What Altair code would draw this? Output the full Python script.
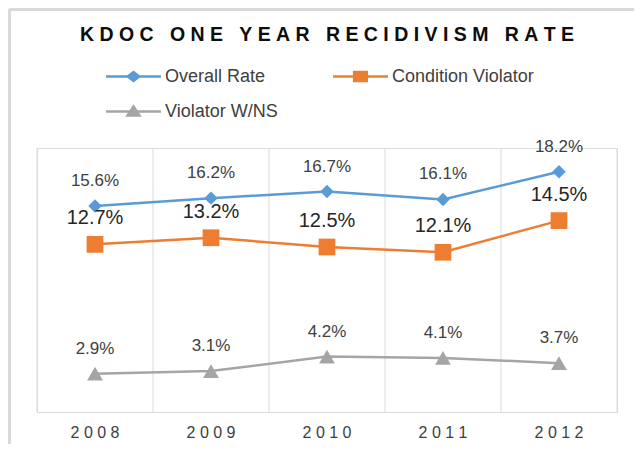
import altair as alt
import pandas as pd

# ---- data -------------------------------------------------------------
years = ["2008", "2009", "2010", "2011", "2012"]
overall = [15.6, 16.2, 16.7, 16.1, 18.2]
condition = [12.7, 13.2, 12.5, 12.1, 14.5]
violator = [2.9, 3.1, 4.2, 4.1, 3.7]
series_names = ["Overall Rate", "Condition Violator", "Violator W/NS"]
series_colors = ["#5B9BD5", "#ED7D31", "#A5A5A5"]
title_words = ["KDOC", "ONE", "YEAR", "RECIDIVISM", "RATE"]

rows = []
for name, vals in zip(series_names, [overall, condition, violator]):
    for yr, v in zip(years, vals):
        rows.append({"year": yr, "series": name, "rate": v, "label": f"{v:.1f}%"})
df = pd.DataFrame(rows)
grid_df = pd.DataFrame({"year": years})

NB = "\u00a0"
title_text = (NB * 3).join(NB.join(list(w)) for w in title_words)

W, H = 580, 264
FONT = "Liberation Sans"

x_scale = alt.Scale(type="band", domain=years, paddingInner=0, paddingOuter=0)
y_scale = alt.Scale(domain=[0, 20])
color_scale = alt.Scale(domain=series_names, range=series_colors)

# legend symbols: line with marker
line_path = "M-1.83,0L1.83,0"
marker_paths = [
    "M-0.38,0L0,-0.3L0.38,0L0,0.3Z",
    "M-0.42,-0.3L0.42,-0.3L0.42,0.3L-0.42,0.3Z",
    "M0,-0.34L0.4,0.26L-0.4,0.26Z",
]
sym = [line_path + m for m in marker_paths]

legend = alt.Legend(
    orient="none", direction="horizontal", legendX=80, legendY=-88, columns=2,
    columnPadding=50, rowPadding=9, labelOffset=15, symbolSize=900, padding=0,
    title=None, labelFont=FONT, labelFontSize=18, labelColor="#404040",
    symbolStrokeWidth=2.5, symbolOpacity=1,
)
color_leg = alt.Color("series:N", scale=color_scale, legend=legend)
stroke_leg = alt.Stroke("series:N", scale=color_scale, legend=legend)
shape_leg = alt.Shape("series:N", scale=alt.Scale(domain=series_names, range=sym), legend=legend)

x_axis = alt.Axis(
    labelExpr="join(split(datum.label, ''), ' ')", labelFont=FONT,
    labelFontSize=16, labelColor="#404040", labelAngle=0, labelPadding=12,
    ticks=False, grid=False, domainColor="#d9d9d9", domainWidth=1)
x_main = alt.X("year:N", scale=x_scale, title=None, axis=x_axis)
y_enc = alt.Y("rate:Q", scale=y_scale, axis=None)

# border (left and top of the chart frame)
border_left = alt.Chart(grid_df.head(1)).mark_rule(color="#d9d9d9", strokeWidth=3).encode(
    x=alt.value(-27.5), y=alt.value(-139), y2=alt.value(H + 32))
border_top = alt.Chart(grid_df.head(1)).mark_rule(color="#d9d9d9", strokeWidth=3).encode(
    x=alt.value(-27.5), x2=alt.value(W + 17), y=alt.value(-138.5))

grid = alt.Chart(grid_df).mark_rule(color="#d9d9d9", strokeWidth=1).encode(
    x=alt.X("year:N", scale=x_scale, title=None, axis=x_axis, bandPosition=0))
grid_end = alt.Chart(grid_df).transform_filter(
    alt.datum.year == years[-1]).mark_rule(color="#d9d9d9", strokeWidth=1).encode(
    x=alt.X("year:N", scale=x_scale, title=None, axis=x_axis, bandPosition=1))

# legend-only layer (no data rows drawn)
legend_layer = alt.Chart(df).transform_filter("false").mark_point(filled=True, opacity=1).encode(
    x=x_main, y=y_enc, color=color_leg, stroke=stroke_leg, shape=shape_leg)

shapes = ["diamond", "square", "triangle-up"]
sizes = [180, 280, 250]
label_sizes = [17, 20, 17]
label_colors = ["#404040", "#262626", "#404040"]
label_dy = [-25, -26, -25]

layers = [border_left, border_top, grid, grid_end, legend_layer]
for i, name in enumerate(series_names):
    base = alt.Chart(df).transform_filter(alt.datum.series == name)
    layers.append(base.mark_line(strokeWidth=2.5, color=series_colors[i]).encode(
        x=x_main, y=y_enc))
for i, name in enumerate(series_names):
    base = alt.Chart(df).transform_filter(alt.datum.series == name)
    layers.append(base.mark_point(shape=shapes[i], size=sizes[i], filled=True, opacity=1,
                                  color=series_colors[i]).encode(x=x_main, y=y_enc))
for i, name in enumerate(series_names):
    base = alt.Chart(df).transform_filter(alt.datum.series == name)
    layers.append(base.mark_text(font=FONT, fontSize=label_sizes[i], color=label_colors[i],
                                 dy=label_dy[i], baseline="middle").encode(
        x=x_main, y=y_enc, text="label:N"))

chart = alt.layer(*layers).properties(
    width=W, height=H,
    autosize=alt.AutoSizeParams(type="none"),
    padding={"left": 29, "top": 140, "right": 17, "bottom": 32},
    title=alt.TitleParams(text=title_text, font=FONT, fontSize=19.5, fontWeight="bold",
                          color="#0d0d0d", anchor="middle", offset=0, dy=38,
                          frame="group"),
).configure_view(stroke=None).configure(background="white")

chart.save("out.html", embed_options={"renderer": "svg", "actions": False})
